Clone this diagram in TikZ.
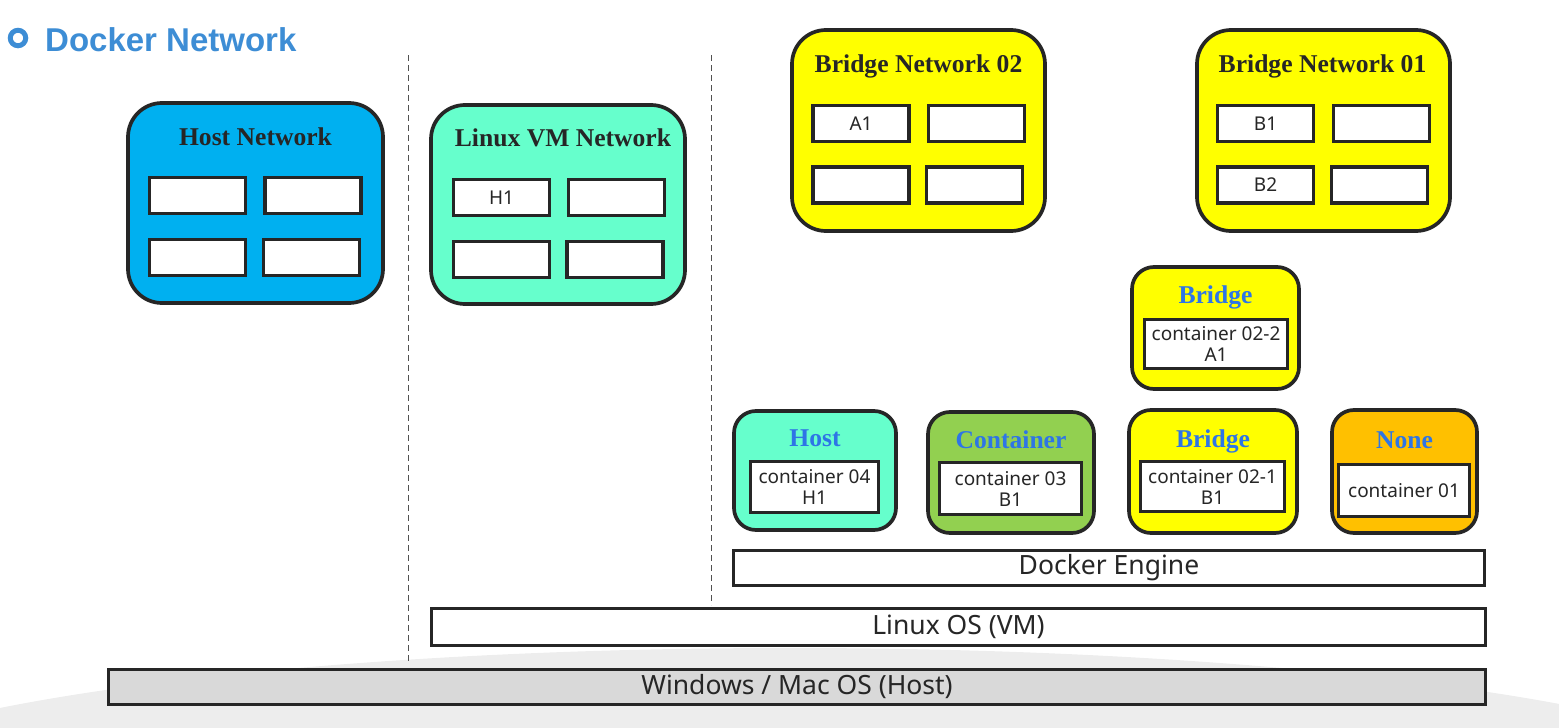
\documentclass[tikz,border=0pt]{standalone}
\usepackage{fontspec}
\setmainfont{Liberation Serif}
\setsansfont{Noto Sans}
\newfontfamily\headfont{Liberation Sans}
\usetikzlibrary{positioning}

\definecolor{edge}{HTML}{262626}
\definecolor{headblue}{RGB}{61,141,213}
\definecolor{ctrblue}{RGB}{46,117,230}
\definecolor{hostfill}{HTML}{00B0F0}
\definecolor{vmfill}{HTML}{66FFCC}
\definecolor{bridgefill}{HTML}{FFFF00}
\definecolor{ctrfill}{HTML}{92D050}
\definecolor{nonefill}{HTML}{FFC000}
\definecolor{osfill}{HTML}{D9D9D9}
\definecolor{floor}{HTML}{EDEDED}

\tikzset{
  net/.style={draw=edge, line width=3.7pt, rounded corners=34pt, inner sep=0pt},
  ctr/.style={draw=edge, line width=3.7pt, rounded corners=22pt, inner sep=0pt},
  slot/.style={draw=edge, fill=white, line width=3.2pt, minimum width=96pt, minimum height=36pt,
    inner sep=0pt, font=\sffamily\fontsize{19}{21}\selectfont, text=edge},
  nettitle/.style={anchor=base, inner sep=0pt, font=\bfseries\fontsize{25.6}{30}\selectfont, text=edge},
  ctrtitle/.style={anchor=base, inner sep=0pt, font=\bfseries\fontsize{25.6}{30}\selectfont, text=ctrblue},
  inbox/.style={draw=edge, fill=white, line width=3.7pt, inner sep=0pt, align=center,
    font=\sffamily\fontsize{19}{21}\selectfont, text=edge},
  layer/.style={draw=edge, line width=3.7pt, inner sep=0pt,
    font=\sffamily\fontsize{26.5}{30}\selectfont, text=edge},
  divider/.style={draw=edge!80, line width=1pt, dash pattern=on 6pt off 4pt}
}

\begin{document}
\begin{tikzpicture}[x=1pt, y=-1pt]
  \useasboundingbox (0,0) rectangle (1559,728);

  % Boden
  \begin{scope}
    \clip (0,0) rectangle (1559,728);
    \fill[floor] (790,803) ellipse [x radius=1000, y radius=155];
  \end{scope}

  % Titel
  \draw[headblue, line width=5pt] (18,38) circle [radius=7.75];
  \node[anchor=base west, inner sep=0pt, text=headblue, font=\headfont\bfseries\fontsize{33}{36}\selectfont]
    (title) at (45,51) {Docker Network};

  % Trennlinien
  \coordinate (d1a) at (408,55);  \coordinate (d1b) at (408,663);
  \coordinate (d2a) at (711,55);  \coordinate (d2b) at (711,605);
  \draw[divider] (d1a) -- (d1b);
  \draw[divider] (d2a) -- (d2b);

  % Netzwerke
  \node[net, fill=hostfill, minimum width=255pt, minimum height=200pt] (hostnet) at (255.5,203) {};
  \node[nettitle] (hostnettitle) at (255.5,145) {Host Network};
  \node[slot] (hs1) at (197.5,195.5) {};
  \node[slot] (hs2) at (313,195.5) {};
  \node[slot] (hs3) at (197.5,257.5) {};
  \node[slot] (hs4) at (311.5,257.5) {};

  \node[net, fill=vmfill, minimum width=254pt, minimum height=199pt] (vmnet) at (558,204.5) {};
  \node[nettitle] (vmnettitle) at (563,146) {Linux VM Network};
  \node[slot] (vs1) at (501.5,197.5) {H1};
  \node[slot] (vs2) at (616.5,197.5) {};
  \node[slot] (vs3) at (501.5,259.5) {};
  \node[slot] (vs4) at (615,259.5) {};

  \node[net, fill=bridgefill, minimum width=253pt, minimum height=201pt] (bn2) at (918.5,130.5) {};
  \node[nettitle] (bn2title) at (918.5,72) {Bridge Network 02};
  \node[slot] (as1) at (861,123.5) {A1};
  \node[slot] (as2) at (976.5,123.5) {};
  \node[slot] (as3) at (861,185) {};
  \node[slot] (as4) at (974.5,185) {};

  \node[net, fill=bridgefill, minimum width=253pt, minimum height=201pt] (bn1) at (1323.5,130.5) {};
  \node[nettitle] (bn1title) at (1322.5,72) {Bridge Network 01};
  \node[slot] (bs1) at (1265.5,123.5) {B1};
  \node[slot] (bs2) at (1381.5,123.5) {};
  \node[slot] (bs3) at (1265.5,185) {B2};
  \node[slot] (bs4) at (1379.5,185) {};

  % Container
  \node[ctr, fill=bridgefill, minimum width=167pt, minimum height=122pt] (bridgetop) at (1215.5,328) {};
  \node[ctrtitle] (bridgetoptitle) at (1215.5,303) {Bridge};
  \node[inbox, minimum width=143pt, minimum height=49pt] (c022) at (1216,344) {container 02-2\\A1};

  \node[ctr, fill=vmfill, minimum width=162pt, minimum height=119pt] (hostmode) at (815,470.5) {};
  \node[ctrtitle] (hostmodetitle) at (815,446) {Host};
  \node[inbox, minimum width=128pt, minimum height=51pt] (c04) at (814.5,487) {container 04\\H1};

  \node[ctr, fill=ctrfill, minimum width=166pt, minimum height=121pt] (ctrmode) at (1011,472.5) {};
  \node[ctrtitle] (ctrmodetitle) at (1011,448) {Container};
  \node[inbox, minimum width=142pt, minimum height=52pt] (c03) at (1010.5,488.5) {container 03\\B1};

  \node[ctr, fill=bridgefill, minimum width=168pt, minimum height=123pt] (bridgemode) at (1213,471.5) {};
  \node[ctrtitle] (bridgemodetitle) at (1213,447) {Bridge};
  \node[inbox, minimum width=144pt, minimum height=50pt] (c021) at (1212.5,486.5) {container 02-1\\B1};

  \node[ctr, fill=nonefill, minimum width=145pt, minimum height=123pt] (nonemode) at (1404.5,471.5) {};
  \node[ctrtitle] (nonemodetitle) at (1404.5,448) {None};
  \node[inbox, minimum width=131pt, minimum height=52pt] (c01) at (1404,490.5) {container 01};

  % Schichten
  \node[layer, fill=white, minimum width=751pt, minimum height=35pt] (engine) at (1109,568) {\raisebox{-2pt}{Docker Engine}};
  \node[layer, fill=white, minimum width=1054pt, minimum height=37pt] (linuxos) at (958.5,627) {\raisebox{-2pt}{Linux OS (VM)}};
  \node[layer, fill=osfill, minimum width=1377pt, minimum height=35pt] (hostos) at (797,687) {\raisebox{-2pt}{Windows / Mac OS (Host)}};
\end{tikzpicture}
\end{document}
